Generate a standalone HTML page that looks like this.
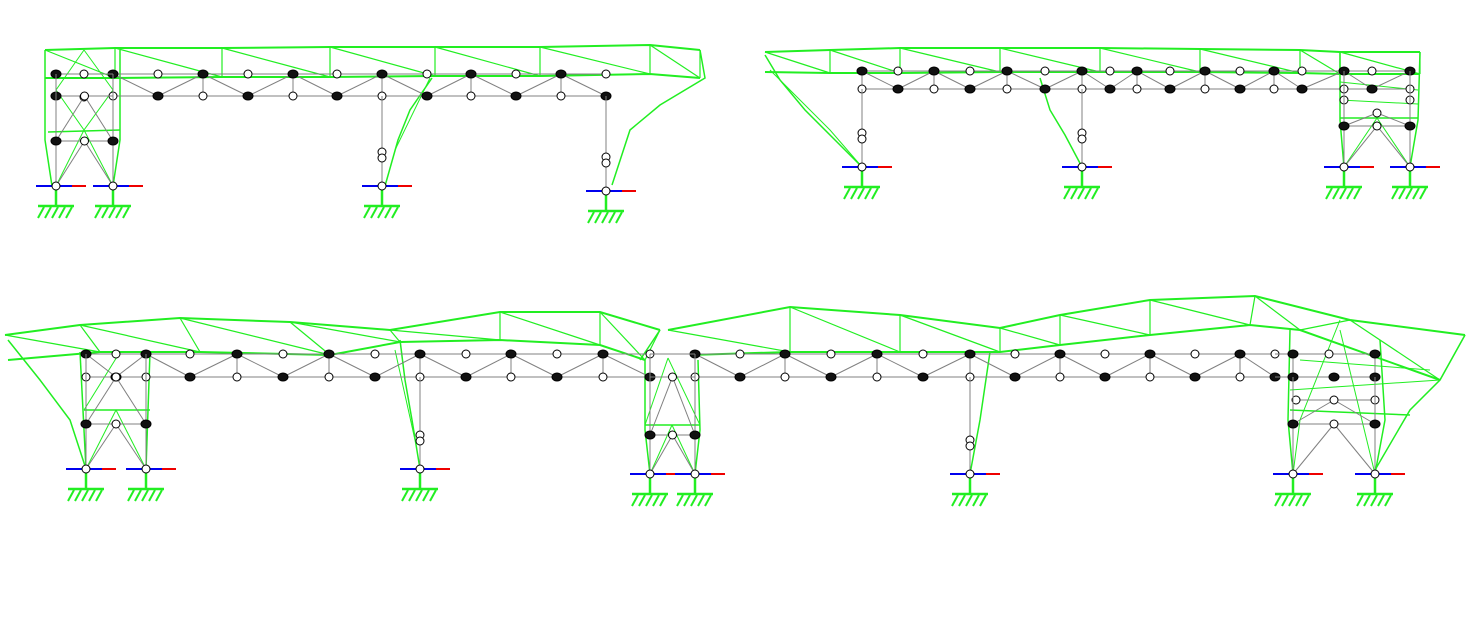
<!DOCTYPE html>
<html><head><meta charset="utf-8"><style>html,body{margin:0;padding:0;background:#fff;width:1479px;height:622px;overflow:hidden}svg{display:block}</style></head>
<body>
<svg id="s" width="1479" height="622" xmlns="http://www.w3.org/2000/svg"></svg>
<script>
const s=document.getElementById('s');let h='';
const G='#22ee22',K='#808080';
function L(a,b,c,d,col,w){h+=`<line x1="${a}" y1="${b}" x2="${c}" y2="${d}" stroke="${col}" stroke-width="${w||1}"/>`;}
function P(pts,col,w){h+=`<polyline points="${pts.map(p=>p.join(',')).join(' ')}" fill="none" stroke="${col}" stroke-width="${w||1.5}"/>`;}
function N(x,y,f){h+=`<ellipse cx="${x}" cy="${y}" rx="${f?5:4}" ry="4" fill="${f?'#111':'#fff'}" stroke="#000" stroke-width="1"/>`;}
function sup(x,y){L(x-20,y,x+16,y,'#0000ee',2);L(x+16,y,x+30,y,'#ee0000',2);L(x,y,x,y+20,G,2.5);L(x-18,y+20,x+18,y+20,G,2.5);
 for(let i=0;i<5;i++){let xx=x-12+i*7;L(xx,y+21,xx-6,y+32,G,2);} N(x,y,0);}
function truss(xs,yt,yb){L(xs[0],yt,xs[xs.length-1],yt,K);L(xs[0],yb,xs[xs.length-1],yb,K);
 xs.forEach((x,i)=>{if(i%2==0)L(x,yt,x,yb,K);if(i>0){if(i%2)L(xs[i-1],yt,x,yb,K);else L(xs[i-1],yb,x,yt,K);}});
 xs.forEach((x,i)=>{N(x,yt,i%2==0);N(x,yb,i%2==1);});}
function tower(a,b,yt,yb,ym,yg){let m=(a+b)/2;L(a,yt,a,yg,K);L(b,yt,b,yg,K);L(a,ym,b,ym,K);L(m,yb,a,ym,K);L(m,yb,b,ym,K);L(m,ym,a,yg,K);L(m,ym,b,yg,K);
 N(a,ym,1);N(b,ym,1);N(m,ym,0);N(m,yb,0);sup(a,yg);sup(b,yg);}
function col(x,y0,y1){L(x,y0,x,y1,K);N(x,y1-34,0);N(x,y1-28,0);sup(x,y1);}
function zig(pts1,pts2){for(let i=0;i<pts1.length-1;i++){L(pts1[i][0],pts1[i][1],pts2[i+1][0],pts2[i+1][1],G,1.2);L(pts2[i+1][0],pts2[i+1][1],pts1[i+1][0],pts1[i+1][1],G,1.2);}}
// ===== Structure 1 =====
let t1=[[45,50],[115,48],[222,48],[330,47],[435,47],[540,47],[650,45],[700,50]];
let b1=[[45,78],[115,78],[222,77],[330,77],[435,76],[540,76],[650,74],[700,78]];
P(t1,G,2);P(b1,G,2);zig(t1,b1);P([[700,50],[705,78],[660,105],[630,130],[612,185]],G,1.5);
P([[45,50],[45,140],[52,186]],G,1.5);P([[120,50],[120,140],[113,186]],G,1.5);P([[48,132],[120,130]],G,1.5);
P([[84,50],[56,90],[84,130],[113,186]],G,1);P([[84,50],[113,90],[84,130],[56,186]],G,1);
P([[432,78],[410,110],[398,140],[385,186]],G,1.5);P([[430,78],[395,150]],G,1);
truss([113,158,203,248,293,337,382,427,471,516,561,606],74,96);
L(56,74,113,74,K);L(56,96,113,96,K);N(56,74,1);N(84,74,0);N(56,96,1);N(84,97,0);
tower(56,113,74,96,141,186);col(382,96,186);col(606,96,191);
// ===== Structure 2 =====
let t2=[[765,52],[830,50],[900,48],[1000,48],[1100,48],[1200,49],[1300,50],[1340,52],[1420,52]];
let b2=[[765,72],[830,73],[900,73],[1000,72],[1100,72],[1200,72],[1300,73],[1340,74],[1420,74]];
P(t2,G,2);P(b2,G,2);zig(t2,b2);
P([[765,55],[780,80],[805,110],[835,140],[862,167]],G,1.5);P([[770,70],[830,130],[862,167]],G,1);
P([[1040,78],[1050,110],[1065,135],[1082,167]],G,1.5);
P([[1340,52],[1340,120],[1344,167]],G,1.5);P([[1420,52],[1418,120],[1410,167]],G,1.5);
P([[1340,118],[1418,118]],G,1.5);P([[1377,118],[1344,167]],G,1);P([[1377,118],[1410,167]],G,1);P([[1340,82],[1418,90]],G,1);P([[1340,100],[1418,104]],G,1);
truss([862,898,934,970,1007,1045,1082,1110,1137,1170,1205,1240,1274,1302,1344,1372,1410],71,89);
L(1344,71,1344,167,K);L(1410,71,1410,167,K);N(1344,100,0);N(1410,100,0);
tower(1344,1410,89,113,126,167);col(862,89,167);col(1082,89,167);
// ===== Structure 3 =====
let t3=[[5,335],[80,325],[180,318],[290,322],[390,330],[500,312],[600,312],[660,330]];
let b3=[[8,360],[100,352],[200,352],[330,355],[400,342],[500,340],[600,345],[645,360]];
P(t3,G,2);P(b3,G,2);zig(t3,b3);
P([[660,330],[640,360]],G,1.5);
let t4=[[668,330],[790,307],[900,315],[1000,328],[1060,315],[1150,300],[1255,296],[1350,320],[1465,335]];
let b4=[[690,355],[790,352],[900,352],[1000,352],[1060,345],[1150,335],[1250,325],[1300,330],[1440,380]];
P(t4,G,2);P(b4,G,2);zig(t4,b4);
P([[1465,335],[1440,380],[1410,410],[1375,470]],G,1.5);
P([[8,340],[40,380],[70,420],[86,469]],G,1.5);P([[80,352],[86,469]],G,1.5);P([[150,352],[146,469]],G,1.5);P([[84,410],[150,410]],G,1.5);P([[120,352],[84,410]],G,1);P([[116,410],[146,469]],G,1);P([[116,410],[86,469]],G,1);
P([[400,340],[405,380],[412,420],[420,469]],G,1.5);P([[395,350],[415,440]],G,1);
P([[645,360],[645,430],[650,474]],G,1.5);P([[698,360],[700,430],[695,474]],G,1.5);P([[645,425],[700,425]],G,1.5);P([[668,358],[645,425]],G,1);P([[668,358],[700,425]],G,1);P([[672,425],[650,474]],G,1);P([[672,425],[695,474]],G,1);
P([[990,352],[980,420],[970,474]],G,1.5);
P([[1290,330],[1288,420],[1293,474]],G,1.5);P([[1340,320],[1300,420],[1293,474]],G,1);P([[1380,340],[1385,420],[1375,474]],G,1.5);P([[1290,410],[1410,415]],G,1.5);P([[1290,390],[1440,380]],G,1);P([[1340,330],[1375,474]],G,1);P([[1300,360],[1430,370]],G,1);
truss([86,116,146,190,237,283,329,375,420,466,511,557,603,650],354,377);
truss([695,740,785,831,877,923,970,1015,1060,1105,1150,1195,1240,1275],354,377);
L(650,354,695,354,K);L(650,377,695,377,K);
L(1275,354,1375,354,K);L(1275,377,1375,377,K);L(1293,354,1293,474,K);L(1375,354,1375,474,K);L(1293,400,1375,400,K);
N(1293,354,1);N(1329,354,0);N(1375,354,1);N(1293,377,1);N(1334,377,1);N(1375,377,1);N(1296,400,0);N(1375,400,0);
tower(86,146,354,377,424,469);col(420,377,469);tower(650,695,354,377,435,474);col(970,377,474);tower(1293,1375,377,400,424,474);
s.innerHTML=h;
</script>
</body></html>
